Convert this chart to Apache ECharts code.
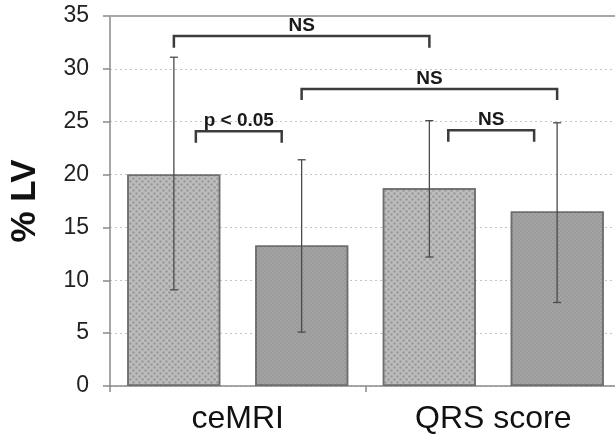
<!DOCTYPE html>
<html>
<head>
<meta charset="utf-8">
<script src="https://cdn.jsdelivr.net/npm/echarts@6/dist/echarts.min.js"></script>
<style>html,body{margin:0;padding:0;background:#fff;overflow:hidden;width:615px;height:439px;}#chart{width:621px;height:439px;}</style>
</head>
<body>
<div id="chart"></div>
<script>
// ---- data ----
var categories = ['ceMRI', 'QRS score'];
var yTicks = [0, 5, 10, 15, 20, 25, 30, 35];
var meanA = [20.0, 18.7];      // light bars (first bar of each group)
var meanB = [13.3, 16.5];      // dark bars (second bar of each group)
var lowA = [9.1, 12.2];
var highA = [31.1, 25.1];
var lowB = [5.1, 7.9];
var highB = [21.4, 24.9];
// significance brackets: x as category index + offset (bar centres are at +-0.25)
var bracketLabels = ['NS', 'NS', 'p < 0.05', 'NS'];
var bracketX1 = [-0.25, 0.25, -0.164, 0.824];
var bracketX2 = [0.75, 1.25, 0.172, 1.16];
var bracketY = [33.1, 28.1, 24.1, 24.2];
var bracketDrop = [32.0, 27.05, 23.0, 23.1];

var FONT = '"Liberation Sans", Arial, sans-serif';
var chart = echarts.init(document.getElementById('chart'));

function xPix(api, p, y) {
  var idx = Math.round(p);
  var off = p - idx;
  return api.coord([idx, y])[0] + off * api.size([1, 0])[0];
}

function errSeries(low, high, offset) {
  return {
    type: 'custom',
    z: 5,
    data: low.map(function (l, i) { return [i, l, high[i]]; }),
    encode: { x: 0, y: [1, 2] },
    renderItem: function (params, api) {
      var i = api.value(0);
      var bw = api.size([1, 0])[0];
      var lo = api.coord([i, api.value(1)]);
      var hi = api.coord([i, api.value(2)]);
      var x = lo[0] + offset * bw;
      var cap = 4;
      var st = { stroke: '#4a4a4a', lineWidth: 1.3 };
      return {
        type: 'group',
        children: [
          { type: 'line', shape: { x1: x, y1: lo[1], x2: x, y2: hi[1] }, style: st },
          { type: 'line', shape: { x1: x - cap, y1: hi[1], x2: x + cap, y2: hi[1] }, style: st },
          { type: 'line', shape: { x1: x - cap, y1: lo[1], x2: x + cap, y2: lo[1] }, style: st }
        ]
      };
    }
  };
}

var option = {
  animation: false,
  backgroundColor: '#fff',
  grid: { left: 108, right: 0, top: 16, bottom: 53 },
  xAxis: [{
    type: 'category',
    data: categories,
    axisLine: { lineStyle: { color: '#8a8a8a', width: 1.5 } },
    axisTick: { show: true, length: 6, lineStyle: { color: '#8a8a8a', width: 1.5 } },
    axisLabel: { fontSize: 32, color: '#111', margin: 17, fontFamily: FONT }
  }, {
    type: 'category',
    data: categories,
    position: 'top',
    axisLine: { lineStyle: { color: '#a8a8a8', width: 2 } },
    axisTick: { show: false },
    axisLabel: { show: false }
  }],
  yAxis: {
    type: 'value',
    min: yTicks[0],
    max: yTicks[yTicks.length - 1],
    interval: 5,
    name: '% LV',
    nameLocation: 'middle',
    nameGap: 67,
    nameTextStyle: { fontSize: 35, fontWeight: 'bold', color: '#111', fontFamily: FONT },
    axisLine: { show: true, lineStyle: { color: '#8a8a8a', width: 1.5 } },
    axisTick: { show: true, length: 7, lineStyle: { color: '#8a8a8a', width: 1.5 } },
    axisLabel: { fontSize: 23, color: '#222', margin: 21, fontFamily: FONT },
    splitLine: { show: true, lineStyle: { color: '#c4c4c4', type: [2, 3], width: 1.2 } }
  },
  series: [{
    type: 'bar',
    data: meanA,
    barWidth: 93,
    barGap: '37.6%',
    itemStyle: {
      color: '#bcbcbc',
      borderColor: '#6e6e6e',
      borderWidth: 1.5,
      decal: { symbol: 'circle', symbolSize: 0.8, dashArrayX: [[3, 3], [0, 3, 3, 0]], dashArrayY: [3, 0], color: 'rgba(110,110,110,0.45)' }
    }
  }, {
    type: 'bar',
    data: meanB,
    barWidth: 93,
    itemStyle: {
      color: '#a4a4a4',
      borderColor: '#6e6e6e',
      borderWidth: 1.5,
      decal: { symbol: 'circle', symbolSize: 0.8, dashArrayX: [[2, 2], [0, 2, 2, 0]], dashArrayY: [2, 0], color: 'rgba(100,100,100,0.35)' }
    }
  },
  errSeries(lowA, highA, -0.25),
  errSeries(lowB, highB, 0.25),
  {
    type: 'custom',
    z: 6,
    data: bracketY.map(function (y, i) { return [Math.round(bracketX1[i]) < 0 ? 0 : Math.round(bracketX1[i]), y, i]; }),
    encode: { x: 0, y: 1 },
    renderItem: function (params, api) {
      var i = api.value(2);
      var x1 = xPix(api, bracketX1[i], 0);
      var x2 = xPix(api, bracketX2[i], 0);
      var y = api.coord([0, bracketY[i]])[1];
      var yd = api.coord([0, bracketDrop[i]])[1];
      return {
        type: 'group',
        children: [{
          type: 'polyline',
          shape: { points: [[x1, yd], [x1, y], [x2, y], [x2, yd]] },
          style: { stroke: '#3c3c3c', lineWidth: 2.5, fill: null }
        }, {
          type: 'text',
          x: (x1 + x2) / 2,
          y: y - 1,
          style: {
            text: bracketLabels[i],
            fill: '#1a1a1a',
            font: 'bold 19px ' + FONT,
            align: 'center',
            verticalAlign: 'bottom'
          }
        }]
      };
    }
  }]
};
chart.setOption(option);
</script>
</body>
</html>
